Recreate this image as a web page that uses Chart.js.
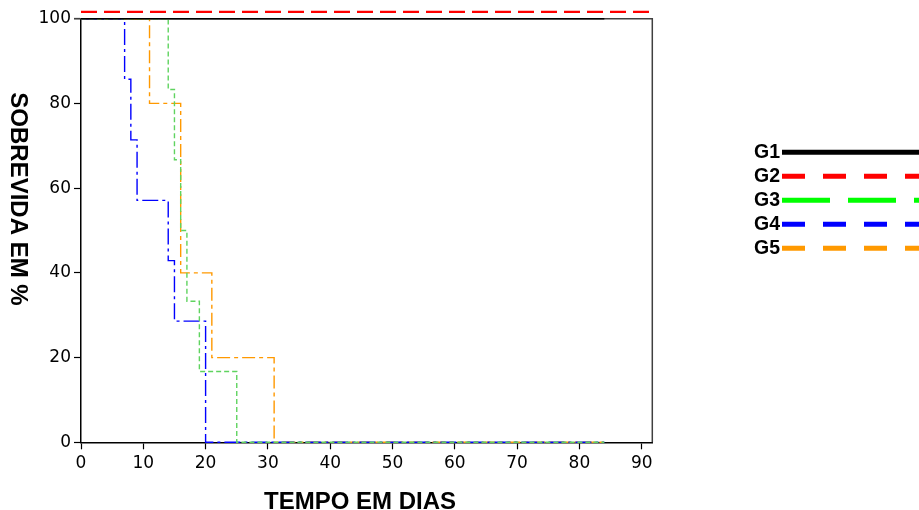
<!DOCTYPE html>
<html lang="pt">
<head>
  <meta charset="UTF-8">
  <title>Sobrevida em %</title>
  <script src="https://cdn.jsdelivr.net/npm/chart.js"></script>
  <style>
    body { margin: 0; background: #fff; }
    canvas { display: block; }
  </style>
</head>
<body>
<canvas id="grafico" width="919" height="510"></canvas>

<script>
// dados (curvas de Kaplan-Meier)
const grupos = ['G1', 'G2', 'G3', 'G4', 'G5'];

const tempoG1 = [0, 84];
const sobrevG1 = [100, 100];

const tempoG2 = [0, 92];
const sobrevG2 = [101.6, 101.6];

const tempoG3 = [0, 14, 15, 16, 17, 19, 25, 84];
const sobrevG3 = [100, 83.3, 66.7, 50, 33.3, 16.7, 0, 0];

const tempoG4 = [0, 7, 8, 9, 14, 15, 20, 84];
const sobrevG4 = [100, 85.7, 71.4, 57.1, 42.9, 28.6, 0, 0];

const tempoG5 = [0, 11, 16, 21, 31, 84];
const sobrevG5 = [100, 80, 40, 20, 0, 0];

const ticksX = [0, 10, 20, 30, 40, 50, 60, 70, 80, 90];
const ticksY = [0, 20, 40, 60, 80, 100];

// estilos
const cores = ['#000000', '#ff0000', '#5fd35f', '#0000ff', '#ff9900'];
const coresLegenda = ['#000000', '#ff0000', '#00ff00', '#0000ff', '#ff9900'];
const tracos = [[], [16, 7], [5, 3], [16, 4, 3, 4], [13, 4, 4, 4]];
const tracosLegenda = [[], [23, 18], [48, 18], [23, 18], [23, 18]];
const larguras = [1.5, 2.2, 1.4, 1.4, 1.4];

const pontos = (t, s) => t.map((v, i) => ({ x: v, y: s[i] }));
const series = [
  pontos(tempoG1, sobrevG1),
  pontos(tempoG2, sobrevG2),
  pontos(tempoG3, sobrevG3),
  pontos(tempoG4, sobrevG4),
  pontos(tempoG5, sobrevG5)
];

const datasets = grupos.map((g, i) => ({
  label: g,
  data: series[i],
  borderColor: cores[i],
  borderDash: tracos[i],
  borderWidth: larguras[i],
  stepped: true,
  pointRadius: 0,
  fill: false,
  clip: false
}));

// moldura, títulos dos eixos e legenda
const extras = {
  id: 'extras',
  beforeDatasetsDraw(chart) {
    const a = chart.chartArea, ctx = chart.ctx;
    ctx.save();
    ctx.strokeStyle = '#404040';
    ctx.lineWidth = 1.5;
    ctx.beginPath();
    ctx.moveTo(a.left - 7, a.top);
    ctx.lineTo(a.right, a.top);
    ctx.lineTo(a.right, a.bottom);
    ctx.stroke();
    ctx.restore();
  },
  afterDraw(chart) {
    const ctx = chart.ctx;
    ctx.save();
    ctx.fillStyle = '#000';
    ctx.font = "bold 24px 'Liberation Sans', Arial, sans-serif";
    ctx.textAlign = 'center';
    ctx.textBaseline = 'alphabetic';
    ctx.fillText('TEMPO EM DIAS', 360, 508.5);

    ctx.save();
    ctx.translate(18, 199);
    ctx.rotate(Math.PI / 2);
    ctx.textBaseline = 'middle';
    ctx.fillText('SOBREVIDA EM %', 0, 0);
    ctx.restore();

    ctx.font = "bold 19.5px 'Liberation Sans', Arial, sans-serif";
    ctx.textAlign = 'right';
    grupos.forEach((g, i) => {
      const y = 152.3 + i * 24;
      ctx.fillStyle = '#000';
      ctx.fillText(g, 780, y + 5.5);
      ctx.strokeStyle = coresLegenda[i];
      ctx.lineWidth = 5;
      ctx.setLineDash(tracosLegenda[i]);
      ctx.beginPath();
      ctx.moveTo(782, y);
      ctx.lineTo(930, y);
      ctx.stroke();
    });
    ctx.restore();
  }
};

const fonteTicks = { family: "'DejaVu Sans', Verdana, sans-serif", size: 17 };

new Chart(document.getElementById('grafico'), {
  type: 'line',
  data: { datasets: datasets },
  plugins: [extras],
  options: {
    responsive: false,
    animation: false,
    devicePixelRatio: 1,
    layout: { padding: { top: 18.7, right: 266.7, left: 0, bottom: 0 } },
    plugins: { legend: { display: false }, tooltip: { enabled: false } },
    scales: {
      x: {
        type: 'linear',
        min: 0,
        max: 91.7,
        afterFit: s => { s.height = 67.7; },
        afterBuildTicks: s => { s.ticks = ticksX.map(v => ({ value: v })); },
        ticks: { color: '#000', font: fonteTicks, padding: 4, maxRotation: 0, includeBounds: false },
        grid: { drawOnChartArea: false, tickLength: 7, color: '#000', tickWidth: 1.2 },
        border: { color: '#000', width: 1.5 }
      },
      y: {
        min: 0,
        max: 100,
        afterFit: s => { s.width = 81; },
        afterBuildTicks: s => { s.ticks = ticksY.map(v => ({ value: v })); },
        ticks: { color: '#000', font: fonteTicks, padding: 3 },
        grid: { drawOnChartArea: false, tickLength: 7, color: '#000', tickWidth: 1.2 },
        border: { color: '#000', width: 1.5 }
      }
    }
  }
});
</script>
</body>
</html>
